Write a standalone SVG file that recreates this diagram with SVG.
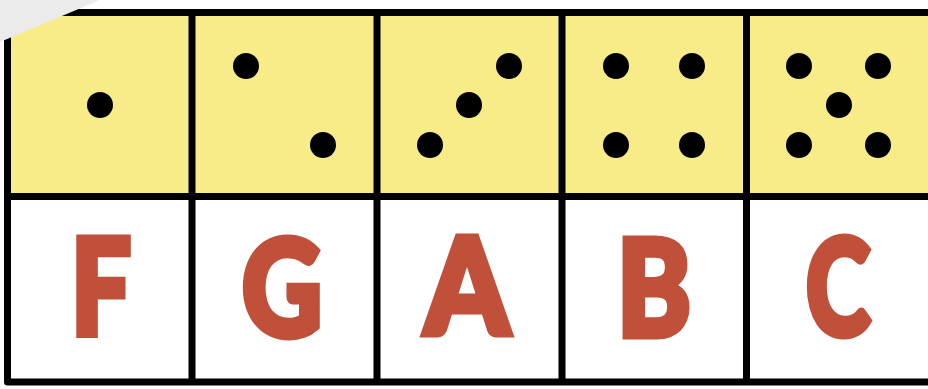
<svg xmlns="http://www.w3.org/2000/svg" width="928" height="389" viewBox="0 0 928 389">
<style>
.top{fill:#F8EC88}
.bot{fill:#FFFFFF}
.pip{fill:#000}
.grid{stroke:#000;stroke-width:7;fill:none;stroke-linejoin:round}
.let{font-family:Lato,"DejaVu Sans",sans-serif;font-weight:900;font-size:134px;fill:#C0503A;stroke:#C0503A;stroke-width:7;stroke-linejoin:miter;stroke-miterlimit:4;text-anchor:middle}
</style>
<rect width="928" height="389" fill="#FFFFFF"/>
<g id="cells">
<rect class="top" x="7.5" y="12.5" width="930" height="184"/>
<rect class="bot" x="7.5" y="196.5" width="930" height="185.5"/>
</g>
<g id="die1"><circle class="pip" cx="100" cy="105" r="13"/></g>
<g id="die2"><circle class="pip" cx="246" cy="66" r="13"/><circle class="pip" cx="323" cy="145" r="13"/></g>
<g id="die3"><circle class="pip" cx="430" cy="145" r="13"/><circle class="pip" cx="469" cy="105" r="13"/><circle class="pip" cx="509" cy="66" r="13"/></g>
<g id="die4"><circle class="pip" cx="616" cy="66" r="13"/><circle class="pip" cx="692" cy="66" r="13"/><circle class="pip" cx="616" cy="145" r="13"/><circle class="pip" cx="692" cy="145" r="13"/></g>
<g id="die5"><circle class="pip" cx="799" cy="66" r="13"/><circle class="pip" cx="878" cy="66" r="13"/><circle class="pip" cx="839" cy="105" r="13"/><circle class="pip" cx="799" cy="145" r="13"/><circle class="pip" cx="878" cy="145" r="13"/></g>
<g id="letters">
<text class="let" x="101" y="335" textLength="60" lengthAdjust="spacingAndGlyphs">F</text>
<text class="let" x="282" y="336" textLength="80" lengthAdjust="spacingAndGlyphs">G</text>
<text class="let" x="467" y="334" textLength="84" lengthAdjust="spacingAndGlyphs">A</text>
<text class="let" x="654" y="336" textLength="74" lengthAdjust="spacingAndGlyphs">B</text>
<text class="let" x="838" y="335" textLength="64" lengthAdjust="spacingAndGlyphs">C</text>
</g>
<g id="grid">
<path class="grid" d="M940 12.5 H7.5 V382 H940"/>
<path class="grid" d="M7.5 196.5 H940"/>
<path class="grid" d="M192 12.5 V382 M377 12.5 V382 M562 12.5 V382 M746.5 12.5 V382"/>
</g>
<polygon points="0,0 100,0 0,42" fill="#EBEBEB"/>
</svg>
